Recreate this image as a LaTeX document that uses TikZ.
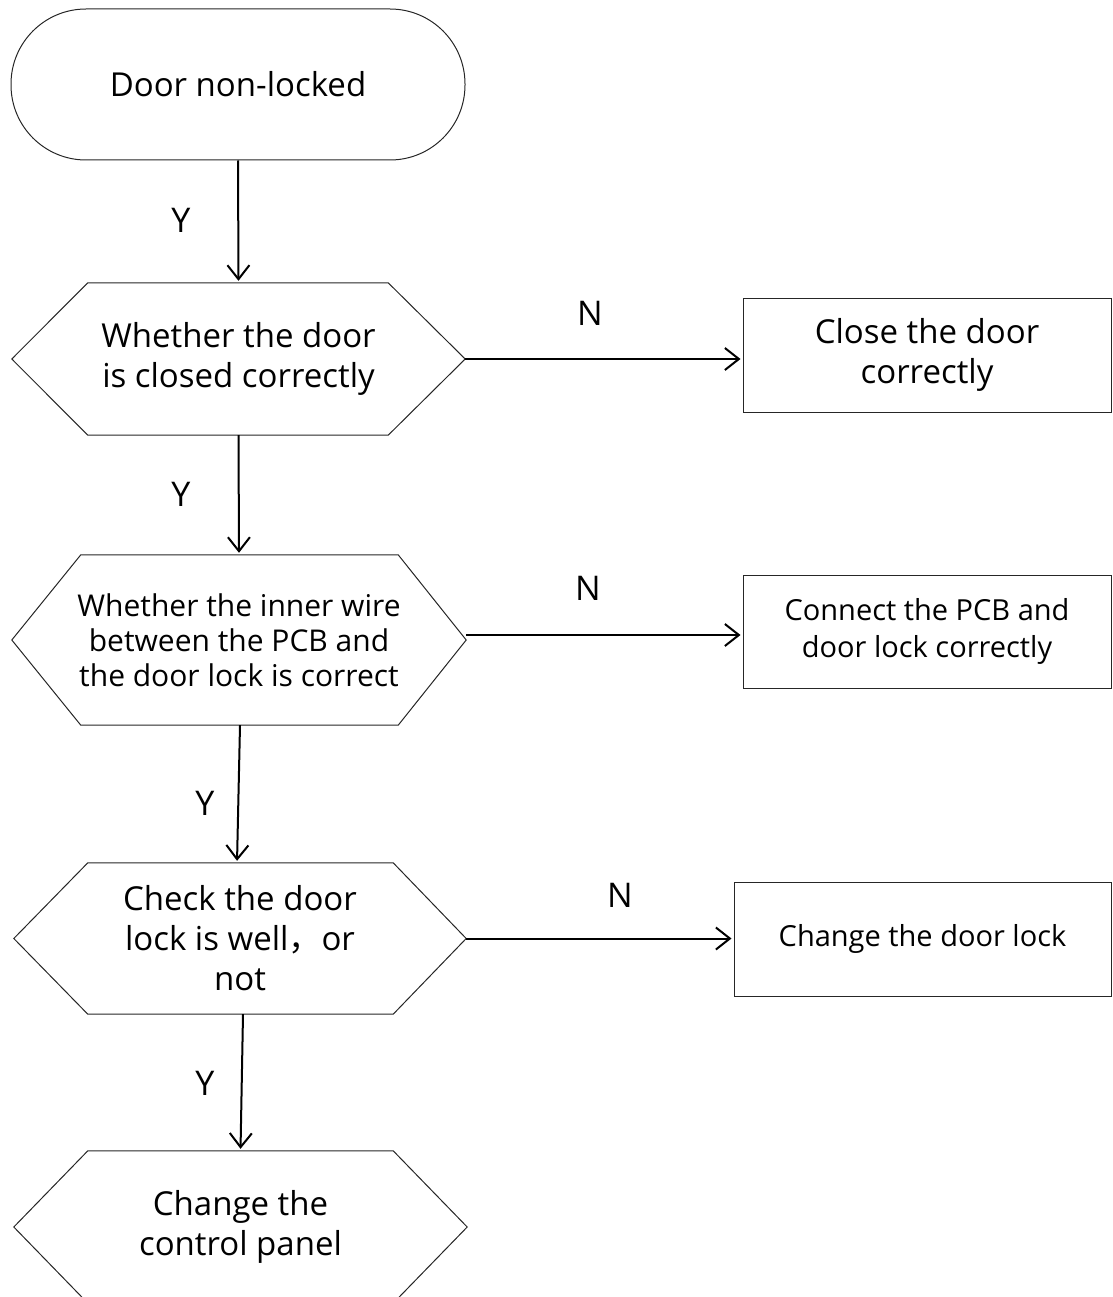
\documentclass[tikz,border=0pt]{standalone}
\usepackage{fontspec}
\setmainfont{Open Sans}
\newfontfamily\cjk{Noto Sans CJK SC}
\usetikzlibrary{arrows.meta}
\begin{document}
\begin{tikzpicture}[x=1pt,y=-1pt,
  hexarea/.style={draw=none, inner sep=0pt, align=center},
  bigtxt/.style={font=\fontsize{33}{40}\selectfont},
  hextxt/.style={font=\fontsize{30}{35}\selectfont},
  midtxt/.style={font=\fontsize{29}{37}\selectfont},
  outline/.style={draw=black!85, line width=1pt},
  boxnode/.style={outline, inner sep=0pt, align=center},
  conn/.style={line width=2pt, shorten >=2pt, -{Straight Barb[length=14pt,width=22pt]}},
  lbl/.style={font=\fontsize{34}{40}\selectfont, inner sep=0pt}]
\useasboundingbox (0,0) rectangle (1112,1297);
\clip (0,0) rectangle (1112,1297);

% start
\node[boxnode, rounded corners=75pt, minimum width=454pt, minimum height=151pt, bigtxt] (start) at (238,84.5) {Door non-locked};

% hexagons
\node[hexarea, minimum width=453pt, minimum height=152pt, bigtxt] (h1) at (238.5,359) {Whether the door\\is closed correctly};
\draw[outline] (h1.west) -- ([xshift=76pt]h1.north west) -- ([xshift=-77pt]h1.north east) -- (h1.east) -- ([xshift=-77pt]h1.south east) -- ([xshift=76pt]h1.south west) -- cycle;

\node[hexarea, minimum width=454pt, minimum height=170pt, hextxt] (h2) at (239,640) {Whether the inner wire\\between the PCB and\\the door lock is correct};
\draw[outline] (h2.west) -- ([xshift=69pt]h2.north west) -- ([xshift=-68pt]h2.north east) -- (h2.east) -- ([xshift=-68pt]h2.south east) -- ([xshift=69pt]h2.south west) -- cycle;

\node[hexarea, minimum width=452pt, minimum height=151pt, bigtxt] (h3) at (240,938.5) {Check the door\\lock is well{\cjk ，}or\\not};
\draw[outline] (h3.west) -- ([xshift=74pt]h3.north west) -- ([xshift=-73pt]h3.north east) -- (h3.east) -- ([xshift=-73pt]h3.south east) -- ([xshift=74pt]h3.south west) -- cycle;

\node[hexarea, minimum width=453pt, minimum height=152pt, bigtxt] (h4) at (240.5,1227) {Change the\\control panel};
\draw[outline] (h4.west) -- ([xshift=74pt]h4.north west) -- ([xshift=-74pt]h4.north east) -- (h4.east) -- ([xshift=-74pt]h4.south east) -- ([xshift=74pt]h4.south west) -- cycle;

% boxes
\node[boxnode, minimum width=368pt, minimum height=114pt, bigtxt] (b1) at (927,355) {Close the door\\correctly};
\node[boxnode, minimum width=368pt, minimum height=113pt, midtxt] (b2) at (927,631.5) {Connect the PCB and\\door lock correctly};
\node[boxnode, minimum width=377pt, minimum height=114pt, midtxt] (b3) at (922.5,939) {Change the door lock};

% connectors
\draw[conn] (start.south) -- (h1.north);
\draw[conn] (h1.south) -- (h2.north);
\draw[conn] ([xshift=1pt]h2.south) -- ([xshift=-3pt]h3.north);
\draw[conn] ([xshift=3pt]h3.south) -- (h4.north);
\draw[conn] (h1.east) -- (h1.east -| b1.west);
\draw[conn] ([yshift=5pt]h2.east) -- ([yshift=5pt]h2.east -| b2.west);
\draw[conn] (h3.east) -- (h3.east -| b3.west);

% labels
\node[lbl] (y1) at (181,220) {Y};
\node[lbl] (y2) at (181,494) {Y};
\node[lbl] (y3) at (205,803) {Y};
\node[lbl] (y4) at (205,1083) {Y};
\node[lbl] (n1) at (590,313) {N};
\node[lbl] (n2) at (588,588) {N};
\node[lbl] (n3) at (620,895) {N};
\end{tikzpicture}
\end{document}
